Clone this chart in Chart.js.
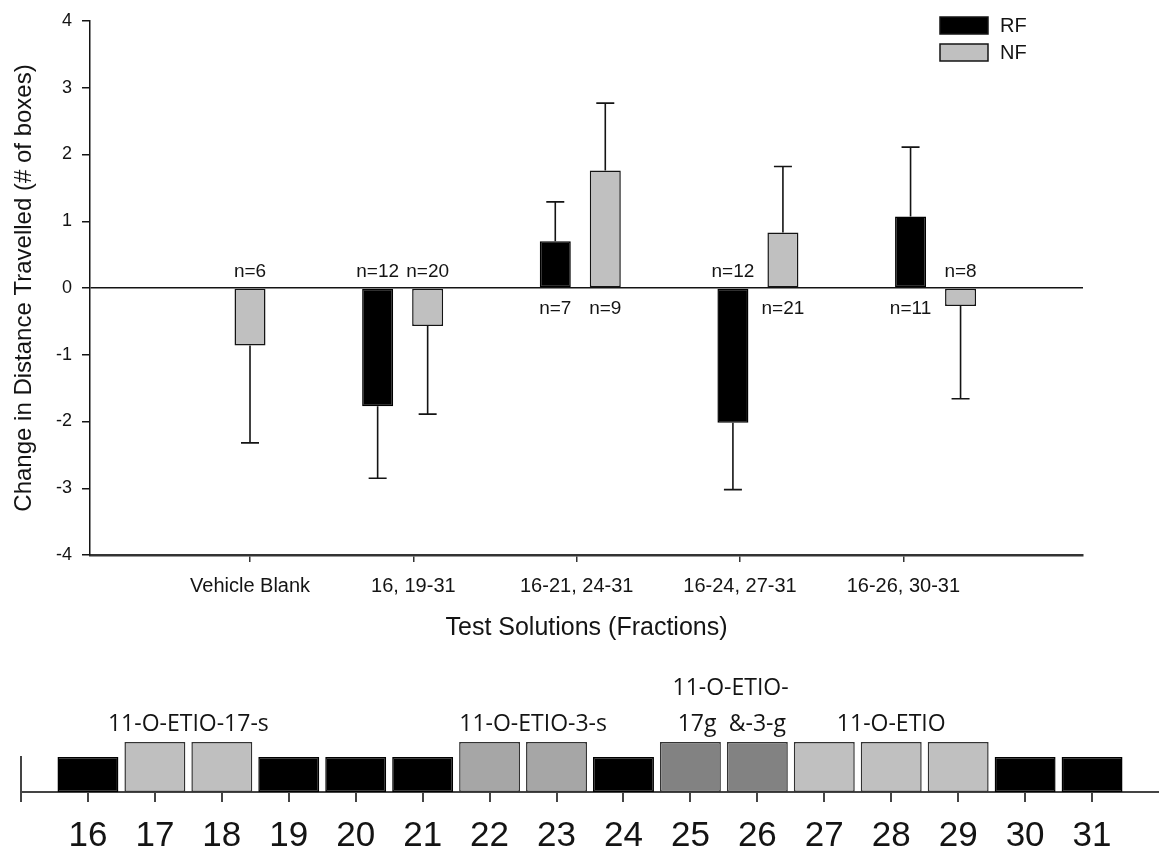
<!DOCTYPE html>
<html>
<head>
<meta charset="utf-8">
<title>Change in Distance Travelled</title>
<script src="https://cdn.jsdelivr.net/npm/chart.js@4.4.1/dist/chart.umd.min.js"></script>
<style>
  html, body { margin: 0; padding: 0; background: #fff; }
  #main { position: absolute; left: 0; top: 0; width: 1159px; height: 660px; }
  #strip { position: absolute; left: 0; top: 660px; width: 1159px; height: 193px; }
</style>
</head>
<body>
<div id="main"><canvas id="distanceChart"></canvas></div>
<div id="strip"><canvas id="fractionChart"></canvas></div>
<script>
// Test solutions and the two fish groups
const solutions = ['Vehicle Blank', '16, 19-31', '16-21, 24-31', '16-24, 27-31', '16-26, 30-31'];
const rfMean = [null, -1.77, 0.70, -2.02, 1.07];
const rfErr  = [null, 1.08, 0.59, 1.00, 1.04];
const rfN    = [null, 12, 7, 12, 11];
const nfMean = [-0.86, -0.57, 1.76, 0.83, -0.27];
const nfErr  = [1.46, 1.32, 1.01, 0.99, 1.39];
const nfN    = [6, 20, 9, 21, 8];
const yTicks = [-4, -3, -2, -1, 0, 1, 2, 3, 4];

// HPLC fractions shown below the chart
const fractions     = [16, 17, 18, 19, 20, 21, 22, 23, 24, 25, 26, 27, 28, 29, 30, 31];
const fractionGroup = ['-', '17s', '17s', '-', '-', '-', '3s', '3s', '-', 'g', 'g', 'free', 'free', 'free', '-', '-'];
const fractionLevel = [0.7, 1, 1, 0.7, 0.7, 0.7, 1, 1, 0.7, 1, 1, 1, 1, 1, 0.7, 0.7];
const fractionNotes = [
    { text: '11-O-ETIO-17-s', at: 17.5, row: 0 },
    { text: '11-O-ETIO-3-s', at: 22.65, row: 0 },
    { text: '11-O-ETIO-', at: 25.6, row: 1 },
    { text: '17g', at: 25.1, row: 0 },
    { text: '&-3-g', at: 26.0, row: 0 },
    { text: '11-O-ETIO', at: 28.0, row: 0 }
];

const FONT = '"Liberation Sans", Arial, sans-serif';
const INK = '#141414';
const shade = { '-': '#000000', '17s': '#bfbfbf', '3s': '#a6a6a6', 'g': '#828282', 'free': '#c0c0c0' };

// only keep whole-number ticks inside a range
function wholeTicks(lo, hi) {
    return function(scale) {
        scale.ticks = scale.ticks.filter(t => Number.isInteger(t.value) && t.value >= lo && t.value <= hi);
    };
}

// error bars and n= labels, drawn on top of the bars
const barExtras = {
    id: 'barExtras',
    afterDatasetsDraw(chart) {
        const ctx = chart.ctx;
        const y = chart.scales.y;
        const zero = y.getPixelForValue(0);
        ctx.save();
        ctx.strokeStyle = INK;
        ctx.lineWidth = 1.6;
        ctx.fillStyle = INK;
        ctx.font = '19px ' + FONT;
        ctx.textAlign = 'center';
        ctx.textBaseline = 'middle';
        chart.data.datasets.forEach((ds, di) => {
            chart.getDatasetMeta(di).data.forEach((bar, i) => {
                const v = ds.data[i].y;
                if (v === null) return;
                const tip = y.getPixelForValue(v + Math.sign(v) * ds.errors[i]);
                ctx.beginPath();
                ctx.moveTo(bar.x, bar.y);
                ctx.lineTo(bar.x, tip);
                ctx.moveTo(bar.x - 9, tip);
                ctx.lineTo(bar.x + 9, tip);
                ctx.stroke();
                const ty = v < 0 ? zero - 16 : zero + 21;
                ctx.fillText('n=' + ds.counts[i], bar.x, ty);
            });
        });
        ctx.restore();
    }
};

// legend box in the top right corner of the plot
const boxLegend = {
    id: 'boxLegend',
    afterDraw(chart) {
        const ctx = chart.ctx;
        const area = chart.chartArea;
        ctx.save();
        ctx.font = '20px ' + FONT;
        ctx.textBaseline = 'middle';
        chart.data.datasets.forEach((ds, i) => {
            const x = area.right - 143;
            const top = area.top - 4 + i * 27;
            ctx.fillStyle = ds.backgroundColor;
            ctx.fillRect(x, top, 48, 17);
            ctx.lineWidth = 1.5;
            ctx.strokeStyle = INK;
            ctx.strokeRect(x, top, 48, 17);
            ctx.fillStyle = INK;
            ctx.fillText(ds.label, x + 60, top + 9);
        });
        ctx.restore();
    }
};

// compound names written above the fraction boxes
const noteLabels = {
    id: 'noteLabels',
    afterDraw(chart) {
        const ctx = chart.ctx;
        const x = chart.scales.x;
        const base = chart.scales.y.getPixelForValue(1) - 18;
        ctx.save();
        ctx.font = '23px "Open Sans", sans-serif';
        ctx.fillStyle = INK;
        ctx.textAlign = 'center';
        ctx.textBaseline = 'middle';
        fractionNotes.forEach(n => {
            ctx.fillText(n.text, x.getPixelForValue(n.at), base - n.row * 36);
        });
        ctx.restore();
    }
};

document.addEventListener('DOMContentLoaded', function() {
    // Change in distance travelled
    const ctx1 = document.getElementById('distanceChart').getContext('2d');
    new Chart(ctx1, {
        type: 'bar',
        data: {
            datasets: [{
                label: 'RF',
                data: rfMean.map((v, i) => ({ x: i, y: v })),
                errors: rfErr,
                counts: rfN,
                backgroundColor: '#000000',
                borderColor: '#000000',
                borderWidth: 1.5,
                borderSkipped: false,
                categoryPercentage: 0.563,
                barPercentage: 0.62
            }, {
                label: 'NF',
                data: nfMean.map((v, i) => ({ x: i, y: v })),
                errors: nfErr,
                counts: nfN,
                backgroundColor: '#c0c0c0',
                borderColor: INK,
                borderWidth: 1.5,
                borderSkipped: false,
                categoryPercentage: 0.563,
                barPercentage: 0.62
            }]
        },
        options: {
            responsive: true,
            maintainAspectRatio: false,
            animation: false,
            layout: { padding: { top: 21, right: 76, bottom: 0, left: 0 } },
            plugins: {
                legend: { display: false },
                tooltip: { enabled: false }
            },
            scales: {
                x: {
                    type: 'linear',
                    display: false,
                    offset: false,
                    grid: { offset: false },
                    min: -0.76,
                    max: 4.83,
                    afterBuildTicks: wholeTicks(0, 4)
                },
                xl: {
                    type: 'linear',
                    position: 'bottom',
                    offset: false,
                    min: -0.98,
                    max: 5.1,
                    afterBuildTicks: wholeTicks(0, solutions.length - 1),
                    afterFit: s => { s.height = 105; },
                    ticks: {
                        stepSize: 1,
                        autoSkip: false,
                        maxRotation: 0,
                        padding: 12,
                        color: INK,
                        font: { family: FONT, size: 20 },
                        callback: v => solutions[v]
                    },
                    grid: { offset: false, drawOnChartArea: false, tickLength: 7, tickColor: '#333', lineWidth: 1.5 },
                    border: { color: '#333', width: 2.5 },
                    title: {
                        display: true,
                        text: 'Test Solutions (Fractions)',
                        color: INK,
                        font: { family: FONT, size: 25 },
                        padding: { top: 0, bottom: 17 }
                    }
                },
                y: {
                    min: -4,
                    max: 4,
                    afterBuildTicks: s => { s.ticks = yTicks.map(v => ({ value: v })); },
                    afterFit: s => { s.width = 90; },
                    ticks: {
                        padding: 10,
                        color: INK,
                        font: { family: FONT, size: 18 }
                    },
                    grid: {
                        color: c => (c.tick && c.tick.value === 0) ? INK : 'rgba(0,0,0,0)',
                        lineWidth: 1.5,
                        tickColor: INK,
                        tickLength: 8
                    },
                    border: { color: INK, width: 1.5 },
                    title: {
                        display: true,
                        text: 'Change in Distance Travelled (# of boxes)',
                        color: INK,
                        font: { family: FONT, size: 24 },
                        padding: { top: 10, bottom: 0 }
                    }
                }
            }
        },
        plugins: [barExtras, boxLegend]
    });

    // Fraction boxes
    const ctx2 = document.getElementById('fractionChart').getContext('2d');
    new Chart(ctx2, {
        type: 'bar',
        data: {
            datasets: [{
                data: fractions.map((f, i) => ({ x: f, y: fractionLevel[i] })),
                backgroundColor: fractionGroup.map(g => shade[g]),
                borderColor: fractionGroup.map(g => g === '-' ? '#000000' : '#333333'),
                borderWidth: 1.5,
                borderSkipped: false,
                categoryPercentage: 1,
                barPercentage: 0.91,
                clip: false
            }]
        },
        options: {
            responsive: true,
            maintainAspectRatio: false,
            animation: false,
            layout: { padding: { top: 97, right: 0, bottom: 0, left: 0 } },
            plugins: {
                legend: { display: false },
                tooltip: { enabled: false }
            },
            scales: {
                x: {
                    type: 'linear',
                    offset: false,
                    min: 15,
                    max: 32,
                    afterBuildTicks: wholeTicks(15, 31),
                    afterFit: s => { s.height = 61; },
                    ticks: {
                        stepSize: 1,
                        autoSkip: false,
                        maxRotation: 0,
                        padding: 13,
                        color: INK,
                        font: { family: FONT, size: 35 },
                        callback: v => v >= fractions[0] ? String(v) : ''
                    },
                    grid: { offset: false, drawOnChartArea: false, tickLength: 10, tickColor: '#444', lineWidth: 2 },
                    border: { color: '#444', width: 2 }
                },
                y: {
                    min: 0,
                    max: 0.7,
                    afterFit: s => { s.width = 21; },
                    ticks: { display: false },
                    grid: { display: false },
                    border: { color: '#444', width: 2 }
                }
            }
        },
        plugins: [noteLabels]
    });
});
</script>
</body>
</html>
